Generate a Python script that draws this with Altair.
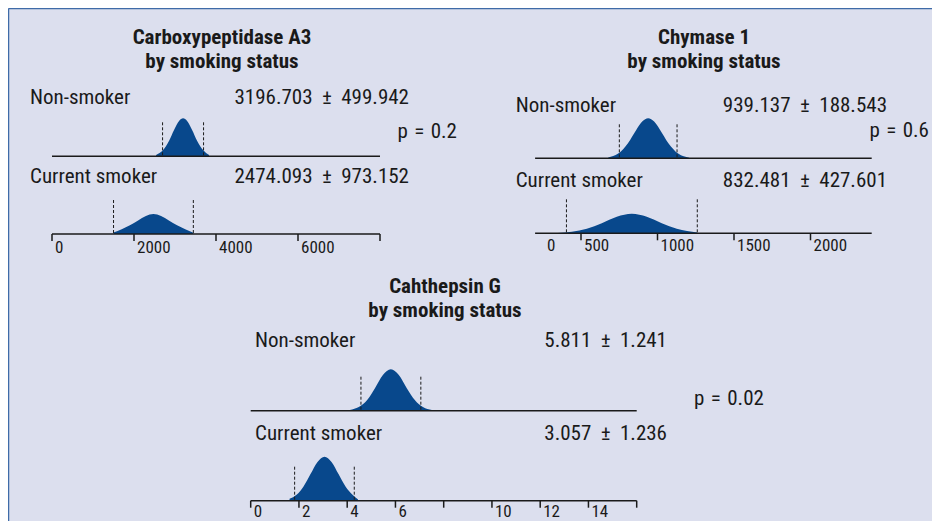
import altair as alt
import pandas as pd

# ---------------- values ----------------
panel_title_1 = ["Carboxypeptidase A3", "Chymase 1", "Cahthepsin G"]
panel_title_2 = "by smoking status"
groups = ["Non-smoker", "Current smoker"]
means = [[3196.703, 2474.093], [939.137, 832.481], [5.811, 3.057]]
sds = [[499.942, 973.152], [188.543, 427.601], [1.241, 1.236]]
p_values = ["p = 0.2", "p = 0.6", "p = 0.02"]

# density outlines (x in data units, height in relative units)
p1_non_x = [2538, 2709, 2856, 2977, 3099, 3197, 3295, 3417, 3538, 3685, 3831]
p1_non_h = [1.4, 6.2, 15.6, 26.3, 35.3, 38, 35.3, 26.3, 15.6, 6.2, 1.2]
p1_cur_x = [1501, 1700, 1900, 2100, 2290, 2474, 2660, 2850, 3050, 3250, 3447]
p1_cur_h = [1.5, 4.8, 8.8, 13.5, 18, 20, 18, 13.5, 8.8, 4.8, 1.2]

p2_non_x = [678, 743, 808, 861, 900, 939, 978, 1017, 1070, 1135, 1207]
p2_non_h = [0.9, 4.7, 15.4, 28.4, 36.7, 40, 36.7, 28.4, 15.4, 4.7, 0.6]
p2_cur_x = [349, 440, 538, 636, 734, 832, 930, 1028, 1126, 1260]
p2_cur_h = [0.3, 1.5, 4.5, 10, 16.5, 19.5, 16.5, 10, 4.5, 0.8]

p3_non_x = [4.11, 4.48, 4.82, 5.15, 5.48, 5.81, 6.14, 6.47, 6.81, 7.14, 7.51]
p3_non_h = [0.8, 3.6, 10.5, 22.5, 35.6, 41.4, 35.6, 22.5, 10.5, 3.6, 0.8]
p3_cur_x = [1.61, 1.90, 2.19, 2.48, 2.77, 3.06, 3.35, 3.64, 3.93, 4.22, 4.45]
p3_cur_h = [1.9, 5.9, 14.3, 26.7, 38.8, 44, 38.8, 26.7, 14.3, 5.9, 1.2]

# axes
p1_ticks = [0, 2000, 4000, 6000, 8000]
p1_tick_labels = ["0", "2000", "4000", "6000", ""]
p2_ticks = [500, 1000, 1500, 2000]
p2_tick_labels = ["500", "1000", "1500", "2000"]
p3_ticks = [0, 2, 4, 6, 8, 10, 12, 14, 16]
p3_tick_labels = ["0", "2", "4", "6", "", "10", "12", "14", ""]
axis_extent = [[0, 8000], [200, 2400], [0, 16]]
scale_domain = [[0, 8000], [0, 2400], [0, 16]]

curves = [
    [(p1_non_x, p1_non_h), (p1_cur_x, p1_cur_h)],
    [(p2_non_x, p2_non_h), (p2_cur_x, p2_cur_h)],
    [(p3_non_x, p3_non_h), (p3_cur_x, p3_cur_h)],
]
ticks = [(p1_ticks, p1_tick_labels), (p2_ticks, p2_tick_labels), (p3_ticks, p3_tick_labels)]

# ---------------- layout / style ----------------
FONT = "Liberation Sans Narrow, Roboto Condensed, DejaVu Sans Condensed, Arial Narrow, sans-serif"
BG = "#dcdfee"
BORDER = "#3f6ba8"
FILL = "#08488c"
INK = "#1a1a1a"
W, H = 924, 513

layout = [
    dict(xr=[44, 372], base=[148.3, 226], title_x=214, title_y=[36, 60],
         lab_x=22, lab_y=[96.3, 175.3], val_x=401, p_x=449, p_y=130, p_align="right", tick_dy=19),
    dict(xr=[496.5, 863.7], base=[150.3, 225.3], title_x=696, title_y=[36, 60],
         lab_x=507.7, lab_y=[103.7, 179.3], val_x=879, p_x=921, p_y=129.3, p_align="right", tick_dy=17.5),
    dict(xr=[242.7, 628.7], base=[402.7, 492.7], title_x=437, title_y=[284.7, 308.7],
         lab_x=247, lab_y=[339.3, 432], val_x=659, p_x=686, p_y=397, p_align="left", tick_dy=16),
]

LABEL_SIZE = 21
TITLE_SIZE = 21
TICK_SIZE = 17
PM = "\u2002\u00b1\u2002"
EQ = "\u2004=\u2004"


def xscale(i):
    return alt.Scale(domain=scale_domain[i], range=layout[i]["xr"])


def text_layer(t, x, y, align="left", size=LABEL_SIZE, bold=False):
    return alt.Chart(pd.DataFrame({"t": [t]})).mark_text(
        align=align, baseline="alphabetic", fontSize=size, font=FONT,
        fontWeight="bold" if bold else "normal", color=INK
    ).encode(x=alt.value(x), y=alt.value(y), text="t:N")


one = pd.DataFrame({"k": [0]})
layers = [
    # frame: only the top and left edges are visible in the original
    alt.Chart(one).mark_rule(color=BORDER, strokeWidth=1.5).encode(
        x=alt.value(0.5), x2=alt.value(W), y=alt.value(0.5)),
    alt.Chart(one).mark_rule(color=BORDER, strokeWidth=1.5).encode(
        x=alt.value(0.5), y=alt.value(0.5), y2=alt.value(H)),
]
for i in range(3):
    L = layout[i]
    sx = xscale(i)
    # titles
    layers.append(text_layer(panel_title_1[i], L["title_x"], L["title_y"][0], "center", TITLE_SIZE, True))
    layers.append(text_layer(panel_title_2, L["title_x"], L["title_y"][1], "center", TITLE_SIZE, True))
    layers.append(text_layer(p_values[i].replace(" = ", EQ), L["p_x"], L["p_y"], L["p_align"]))
    for g in range(2):
        base = L["base"][g]
        xs, hs = curves[i][g]
        ys = alt.Scale(domain=[0, 50], range=[base, base - 50])
        # group label and mean ± sd
        layers.append(text_layer(groups[g], L["lab_x"], L["lab_y"][g]))
        layers.append(text_layer(f"{means[i][g]:.3f}{PM}{sds[i][g]:.3f}", L["val_x"], L["lab_y"][g], "right"))
        # density
        layers.append(
            alt.Chart(pd.DataFrame({"x": xs, "h": hs})).mark_area(
                interpolate="monotone", color=FILL, opacity=1
            ).encode(
                x=alt.X("x:Q", scale=sx, axis=None),
                y=alt.Y("h:Q", scale=ys, axis=None),
            )
        )
        # baseline / axis line
        layers.append(
            alt.Chart(pd.DataFrame({"a": [axis_extent[i][0]], "b": [axis_extent[i][1]]})).mark_rule(
                color=INK, strokeWidth=1.5
            ).encode(x=alt.X("a:Q", scale=sx, axis=None), x2="b:Q", y=alt.value(base))
        )
        # mean ± sd dashed markers
        layers.append(
            alt.Chart(pd.DataFrame({"x": [means[i][g] - sds[i][g], means[i][g] + sds[i][g]]})).mark_rule(
                color=INK, strokeWidth=1, strokeDash=[3, 2]
            ).encode(x=alt.X("x:Q", scale=sx, axis=None), y=alt.value(base - 34), y2=alt.value(base))
        )
    # ticks and tick labels on the lower axis
    ab = L["base"][1]
    tv, tl = ticks[i]
    tdf = pd.DataFrame({"v": tv, "lab": tl})
    layers.append(
        alt.Chart(tdf).mark_rule(color=INK, strokeWidth=1.5).encode(
            x=alt.X("v:Q", scale=sx, axis=None), y=alt.value(ab), y2=alt.value(ab + 7)
        )
    )
    layers.append(
        alt.Chart(tdf).mark_text(align="left", baseline="alphabetic", dx=3, fontSize=TICK_SIZE,
                                 font=FONT, color=INK).encode(
            x=alt.X("v:Q", scale=sx, axis=None), y=alt.value(ab + L["tick_dy"]), text="lab:N"
        )
    )

# the stray "0" under the Chymase axis
layers.append(text_layer("0", 539, layout[1]["base"][1] + layout[1]["tick_dy"], "left", TICK_SIZE))

chart = alt.layer(*layers).resolve_scale(x="independent", y="independent").properties(
    width=W, height=H, background=BG, padding=0,
    autosize=alt.AutoSizeParams(type="none"),
).configure_view(strokeWidth=0, fill=BG)

chart.save("out.html", embed_options={"renderer": "svg", "actions": False})
